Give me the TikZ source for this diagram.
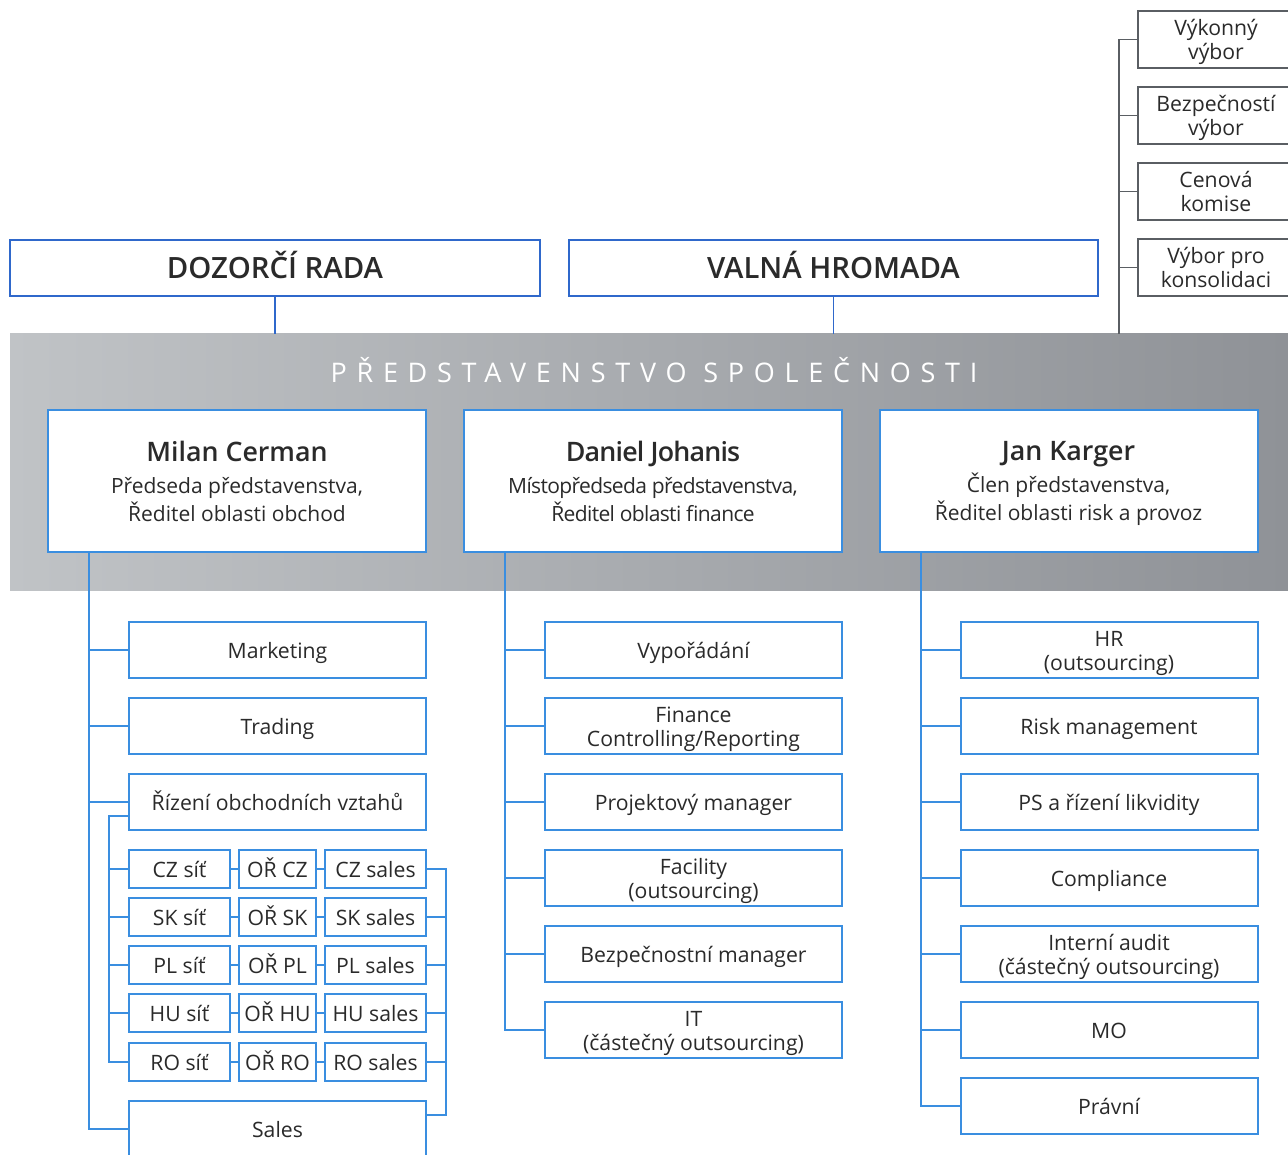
\documentclass[tikz,border=0pt]{standalone}
\usepackage{fontspec}
\setmainfont{Open Sans}[BoldFont={Open Sans Semibold}]
\usetikzlibrary{positioning}

\definecolor{lineblue}{HTML}{3A8EE0}
\definecolor{topblue}{HTML}{2F68CB}
\definecolor{txtgray}{HTML}{2A2A2A}
\definecolor{darkline}{HTML}{5A5E63}
\definecolor{bandleft}{HTML}{C0C3C6}
\definecolor{bandright}{HTML}{8F9297}

\newcommand{\fsz}[2]{\fontsize{#1}{#2}\selectfont}

\begin{document}
\begin{tikzpicture}[
  x=1pt, y=-1pt,
  box/.style={draw=lineblue, line width=2pt, fill=white, text=txtgray, align=center, inner sep=0pt,
    font=\fsz{21.2}{24}, text height=17.5pt, text depth=1.5pt},
  two/.style={text height=41.5pt, text depth=1.5pt},
  unit/.style={box, minimum width=297pt, minimum height=56pt},
  cell/.style={box, minimum height=38pt},
  committee/.style={box, two, draw=darkline, line width=1.6pt, minimum width=156pt, minimum height=57pt},
  board/.style={box, minimum width=378pt, minimum height=142pt, font=\fsz{21}{28}, text height=, text depth=0pt},
  head/.style={box, draw=topblue, line width=1.6pt, minimum width=530pt, minimum height=56pt,
    font=\fsz{29.3}{32}\bfseries, text height=21.5pt, text depth=0.5pt},
  link/.style={draw=lineblue, line width=2pt},
  toplink/.style={draw=topblue, line width=1.6pt},
  graylink/.style={draw=darkline, line width=1.6pt}
]
\useasboundingbox (0,0) rectangle (1288,1155);
\clip (0,0) rectangle (1288,1155);

% Committees
\node[committee] (vykonny) at (1216,39.5) {Výkonný\\výbor};
\node[committee] (bezpecnost) at (1216,115.5) {Bezpečností\\výbor};
\node[committee] (cenova) at (1216,191.5) {Cenová\\komise};
\node[committee] (konsolidace) at (1216,267.5) {Výbor pro\\konsolidaci};

% Top bodies
\node[head] (dozorci) at (275,268) {DOZORČÍ RADA};
\node[head, minimum width=529pt] (valna) at (833.5,268) {VALNÁ HROMADA};

% Board band
\node[minimum width=1278pt, minimum height=256pt, inner sep=0pt, left color=bandleft, right color=bandright] (band) at (649,462) {};
\node[text=white, font=\fsz{27}{30}\addfontfeature{LetterSpace=36}] (title) at (654,370) {PŘEDSTAVENSTVO SPOLEČNOSTI};

\draw[toplink] (dozorci.south) -- (dozorci.south |- band.north);
\draw[toplink] (valna.south) -- (valna.south |- band.north);
\coordinate (cspine) at (1119,334);
\draw[graylink] (cspine) -- (cspine |- vykonny.west);
\foreach \n in {vykonny,bezpecnost,cenova,konsolidace}
  \draw[graylink] (cspine |- \n.west) -- (\n.west);

% Board members
\node[board] (milan) at (237,481) {{\bfseries\fsz{26.8}{30}Milan Cerman}\\[4pt]Předseda představenstva,\\Ředitel oblasti obchod};
\node[board, font=\fsz{21}{28}\addfontfeature{LetterSpace=-3}] (daniel) at (653,481) {{\bfseries\fsz{26.8}{30}Daniel Johanis}\\[4pt]Místopředseda představenstva,\\Ředitel oblasti finance};
\node[board] (jan) at (1068.5,481) {{\bfseries\fsz{26.8}{30}Jan Karger}\\[4pt]Člen představenstva,\\Ředitel oblasti risk a provoz};

% Obchod
\node[unit] (marketing) at (277.5,650) {Marketing};
\node[unit] (trading) at (277.5,726) {Trading};
\node[unit] (rizeni) at (277.5,802) {Řízení obchodních vztahů};
\node[unit] (sales) at (277.5,1129) {Sales};

\foreach \r/\y in {CZ/869,SK/917,PL/965,HU/1013,RO/1062} {
  \node[cell, minimum width=101pt] (\r-sit) at (179.5,\y) {\r{} síť};
  \node[cell, minimum width=77pt] (\r-or) at (277.5,\y) {OŘ \r};
  \node[cell, minimum width=101pt] (\r-sales) at (375.5,\y) {\r{} sales};
  \draw[link] (\r-sit) -- (\r-or);
  \draw[link] (\r-or) -- (\r-sales);
}

\coordinate (mspine) at (89,552);
\draw[link] (mspine) |- (sales.west);
\foreach \n in {marketing,trading,rizeni}
  \draw[link] (mspine |- \n.west) -- (\n.west);

\coordinate (sspine) at (109,816);
\draw[link] (rizeni.west |- sspine) -- (sspine) |- (RO-sit.west);
\foreach \r in {CZ,SK,PL,HU}
  \draw[link] (sspine |- \r-sit.west) -- (\r-sit.west);

\coordinate (rspine) at (446,1115);
\draw[link] (CZ-sales.east) -| (rspine) -- (rspine -| sales.east);
\foreach \r in {SK,PL,HU,RO}
  \draw[link] (\r-sales.east) -- (rspine |- \r-sales.east);

% Finance
\node[unit] (vyporadani) at (693.5,650) {Vypořádání};
\node[unit, two] (finance) at (693.5,726) {Finance\\Controlling/Reporting};
\node[unit] (projekt) at (693.5,802) {Projektový manager};
\node[unit, two] (facility) at (693.5,878) {Facility\\(outsourcing)};
\node[unit] (bezpmanager) at (693.5,954) {Bezpečnostní manager};
\node[unit, two] (it) at (693.5,1030) {IT\\(částečný outsourcing)};

\coordinate (dspine) at (505,552);
\draw[link] (dspine) |- (it.west);
\foreach \n in {vyporadani,finance,projekt,facility,bezpmanager}
  \draw[link] (dspine |- \n.west) -- (\n.west);

% Risk a provoz
\node[unit, two] (hr) at (1109,650) {HR\\(outsourcing)};
\node[unit] (risk) at (1109,726) {Risk management};
\node[unit] (likvidita) at (1109,802) {PS a řízení likvidity};
\node[unit] (compliance) at (1109,878) {Compliance};
\node[unit, two] (audit) at (1109,954) {Interní audit\\(částečný outsourcing)};
\node[unit] (mo) at (1109,1030) {MO};
\node[unit] (pravni) at (1109,1106) {Právní};

\coordinate (jspine) at (921,552);
\draw[link] (jspine) |- (pravni.west);
\foreach \n in {hr,risk,likvidita,compliance,audit,mo}
  \draw[link] (jspine |- \n.west) -- (\n.west);

\end{tikzpicture}
\end{document}
